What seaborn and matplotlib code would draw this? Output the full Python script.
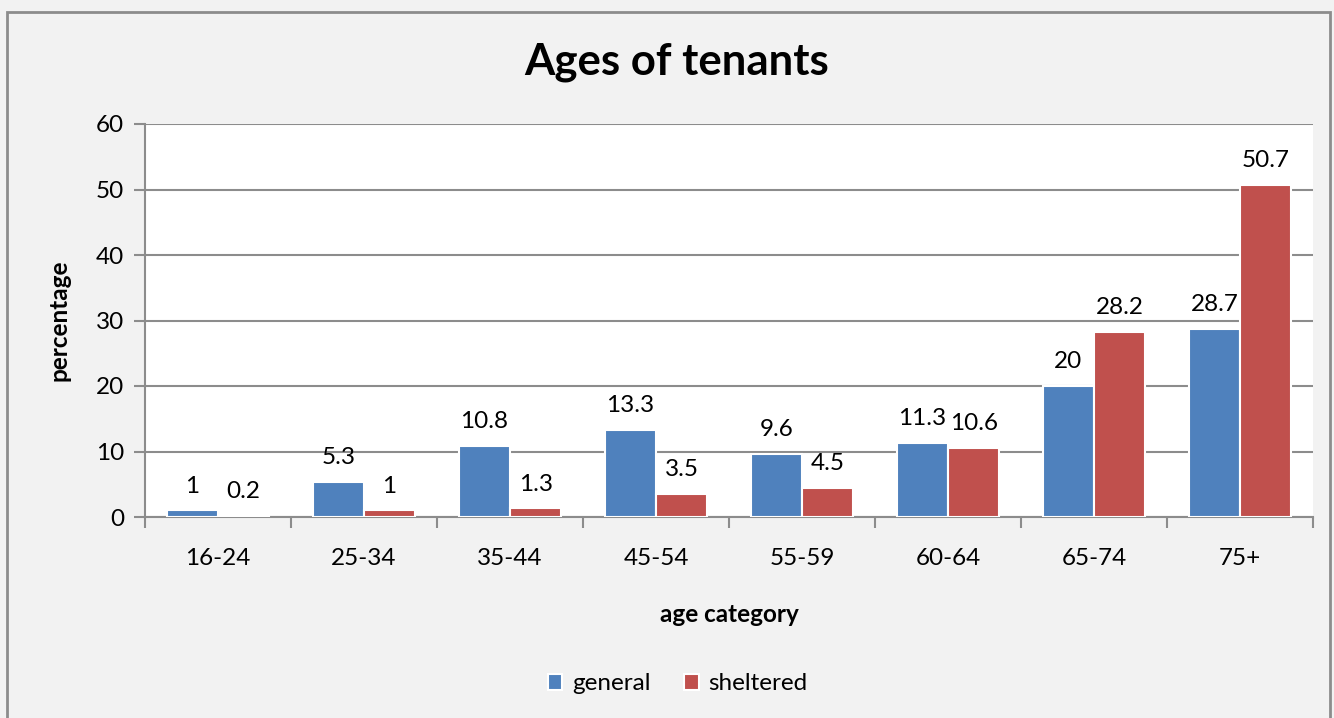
"""
Ages of tenants: general vs sheltered housing, grouped bars
"""
import matplotlib
matplotlib.use("Agg")
from matplotlib import pyplot as plt
from matplotlib.patches import Rectangle
import pandas as pd
import seaborn as sns

AGE_GROUPS = ['16-24', '25-34', '35-44', '45-54', '55-59', '60-64', '65-74', '75+']
GENERAL = [1, 5.3, 10.8, 13.3, 9.6, 11.3, 20, 28.7]
SHELTERED = [0.2, 1, 1.3, 3.5, 4.5, 10.6, 28.2, 50.7]
SERIES = ['general', 'sheltered']
COLOURS = ['#4F81BD', '#C0504D']
Y_TICKS = [0, 10, 20, 30, 40, 50, 60]


def build_frame():
    """
    long table for seaborn
    """
    rows = []
    for grp, g, s in zip(AGE_GROUPS, GENERAL, SHELTERED):
        rows.append((grp, SERIES[0], g))
        rows.append((grp, SERIES[1], s))
    return pd.DataFrame(rows, columns=['age', 'type', 'pct'])
# End build_frame function


def make_chart(out_path):
    sns.set_style('white')
    plt.rcParams['font.family'] = ['Lato', 'DejaVu Sans']
    plt.rcParams['text.color'] = 'black'
    plt.rcParams['axes.labelcolor'] = 'black'
    grid_col = '#8C8C8C'
    fsize = 17.5

    fig = plt.figure(figsize=(13.34, 7.18), dpi=100)
    fig.patch.set_facecolor('#F2F2F2')
    fig.patches.append(Rectangle((7 / 1334, -0.02), 1323 / 1334, 1 - 12 / 718 + 0.02,
                                 transform=fig.transFigure, fill=False,
                                 edgecolor='#8C8C8C', linewidth=2))
    ax = fig.add_axes([145 / 1334, 1 - 517 / 718, 1168 / 1334, 393 / 718])
    ax.set_facecolor('white')

    df = build_frame()
    sns.barplot(data=df, x='age', y='pct', hue='type', hue_order=SERIES,
                palette=COLOURS, width=0.7, edgecolor='white', linewidth=1.5,
                saturation=1, ax=ax, zorder=3)

    for cont in ax.containers:
        ax.bar_label(cont, labels=['%g' % b.get_height() for b in cont],
                     padding=10, fontsize=fsize, color='black')

    ax.set_ylim(0, 60)
    ax.set_xlim(-0.5, len(AGE_GROUPS) - 0.5)
    ax.set_yticks(Y_TICKS)
    ax.yaxis.grid(True, color=grid_col, linewidth=1.5, zorder=0)
    ax.set_axisbelow(True)
    for side in ['top', 'right']:
        ax.spines[side].set_visible(False)
    for side in ['left', 'bottom']:
        ax.spines[side].set_color(grid_col)
        ax.spines[side].set_linewidth(1.5)

    # category ticks sit on the boundaries, labels in the middle
    ax.set_xticks([i - 0.5 for i in range(len(AGE_GROUPS) + 1)])
    ax.set_xticklabels([])
    ax.set_xticks(range(len(AGE_GROUPS)), minor=True)
    ax.set_xticklabels(AGE_GROUPS, minor=True, fontsize=fsize)
    ax.tick_params(axis='x', which='major', direction='out', length=8,
                   width=1.5, color=grid_col, bottom=True)
    ax.tick_params(axis='x', which='minor', length=0, pad=22, labelcolor='black')
    ax.tick_params(axis='y', direction='out', length=8, width=1.5,
                   color=grid_col, labelsize=fsize, pad=7, left=True,
                   labelcolor='black')

    ax.set_xlabel('age category', fontsize=fsize, fontweight='bold', labelpad=25)
    ax.set_ylabel('percentage', fontsize=fsize, fontweight='bold', labelpad=18)
    fig.text(0.507, 1 - 62 / 718, 'Ages of tenants', ha='center', va='center',
             fontsize=31.5, fontweight='bold')

    ax.legend(loc='center', bbox_to_anchor=(0.508, 1 - 684 / 718),
              bbox_transform=fig.transFigure, ncol=2, frameon=False,
              fontsize=fsize, handlelength=0.6, handleheight=0.6,
              handletextpad=0.4, columnspacing=1.4)

    fig.savefig(out_path, dpi=100, facecolor=fig.get_facecolor())
# End make_chart function


if __name__ == '__main__':
    make_chart('out.png')
